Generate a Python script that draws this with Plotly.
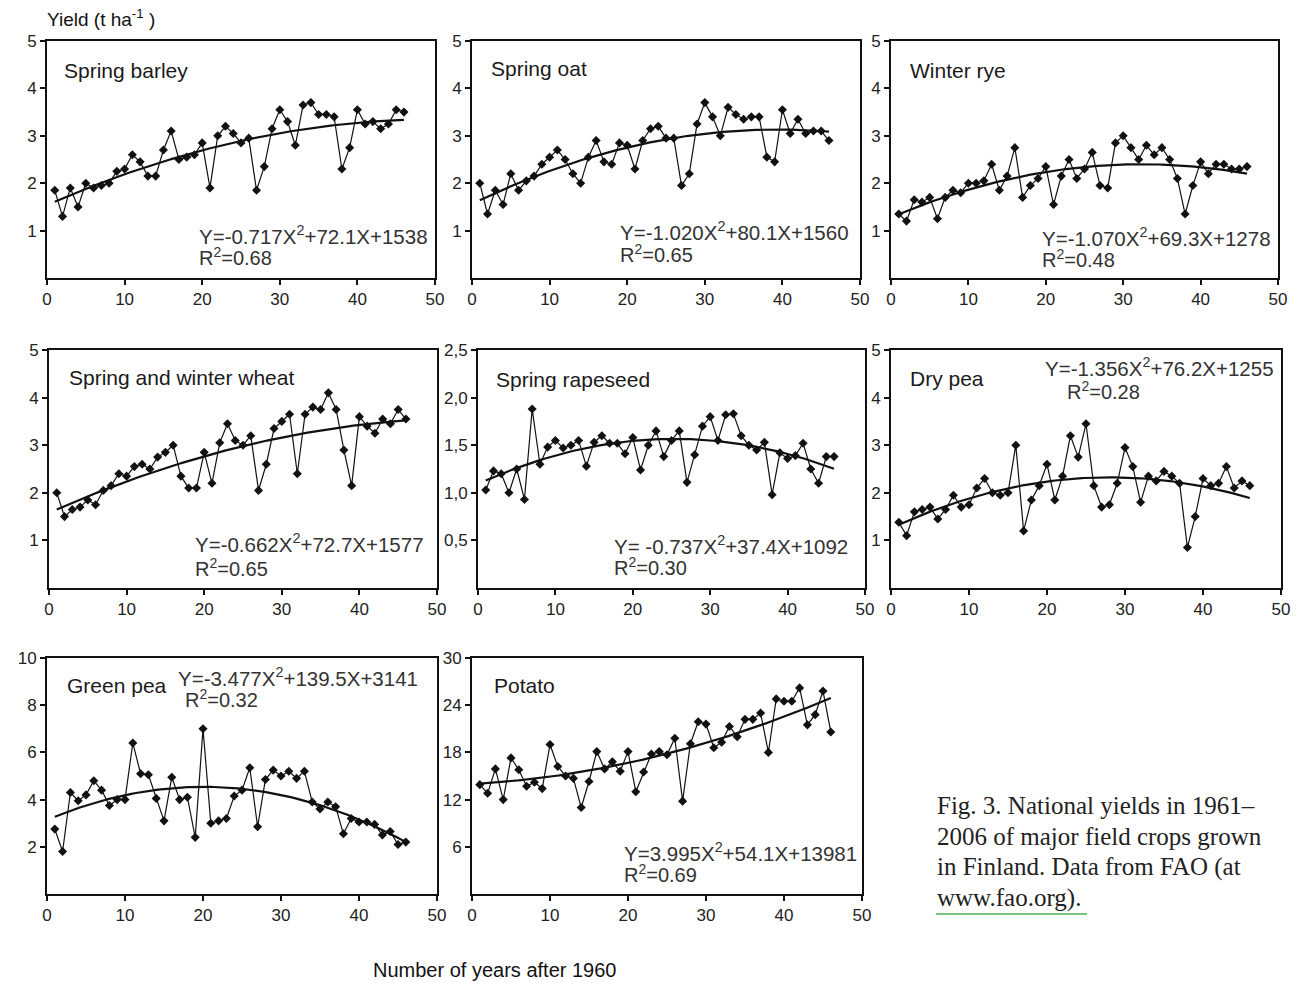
import numpy as np
import plotly.graph_objects as go

W, H = 1305, 983
years = list(range(1, 47))

spring_barley = [1.85, 1.3, 1.9, 1.5, 2.0, 1.9, 1.95, 2.0, 2.25, 2.3,
                 2.6, 2.45, 2.15, 2.15, 2.7, 3.1, 2.5, 2.55, 2.6, 2.85,
                 1.9, 3.0, 3.2, 3.05, 2.85, 2.95, 1.85, 2.35, 3.15, 3.55,
                 3.3, 2.8, 3.65, 3.7, 3.45, 3.45, 3.4, 2.3, 2.75, 3.55,
                 3.25, 3.3, 3.15, 3.25, 3.55, 3.5]
spring_oat = [2.0, 1.35, 1.85, 1.55, 2.2, 1.85, 2.05, 2.15, 2.4, 2.55,
              2.7, 2.5, 2.2, 2.0, 2.55, 2.9, 2.45, 2.4, 2.85, 2.8,
              2.3, 2.9, 3.15, 3.2, 2.95, 2.95, 1.95, 2.2, 3.25, 3.7,
              3.4, 3.0, 3.6, 3.45, 3.35, 3.4, 3.4, 2.55, 2.45, 3.55,
              3.05, 3.35, 3.05, 3.1, 3.1, 2.9]
winter_rye = [1.35, 1.2, 1.65, 1.6, 1.7, 1.25, 1.7, 1.85, 1.8, 2.0,
              2.0, 2.05, 2.4, 1.85, 2.15, 2.75, 1.7, 1.95, 2.1, 2.35,
              1.55, 2.15, 2.5, 2.1, 2.3, 2.65, 1.95, 1.9, 2.85, 3.0,
              2.75, 2.5, 2.8, 2.6, 2.75, 2.5, 2.1, 1.35, 1.95, 2.45,
              2.2, 2.4, 2.4, 2.3, 2.3, 2.35]
wheat = [2.0, 1.5, 1.65, 1.7, 1.85, 1.75, 2.05, 2.15, 2.4, 2.35,
         2.55, 2.6, 2.5, 2.75, 2.85, 3.0, 2.35, 2.1, 2.1, 2.85,
         2.2, 3.05, 3.45, 3.1, 3.0, 3.2, 2.05, 2.6, 3.35, 3.5,
         3.65, 2.4, 3.65, 3.8, 3.75, 4.1, 3.75, 2.9, 2.15, 3.6,
         3.4, 3.25, 3.55, 3.45, 3.75, 3.55]
rapeseed = [1.03, 1.23, 1.2, 1.0, 1.25, 0.93, 1.88, 1.3, 1.48, 1.55,
            1.47, 1.5, 1.55, 1.28, 1.53, 1.6, 1.52, 1.52, 1.41, 1.58,
            1.24, 1.5, 1.65, 1.38, 1.55, 1.65, 1.11, 1.4, 1.7, 1.8,
            1.55, 1.82, 1.83, 1.6, 1.5, 1.45, 1.53, 0.98, 1.42, 1.36,
            1.39, 1.52, 1.25, 1.1, 1.38, 1.38]
dry_pea = [1.38, 1.1, 1.6, 1.65, 1.7, 1.45, 1.65, 1.95, 1.7, 1.75,
           2.1, 2.3, 2.0, 1.95, 2.0, 3.0, 1.2, 1.85, 2.15, 2.6,
           1.85, 2.35, 3.2, 2.75, 3.45, 2.15, 1.7, 1.75, 2.2, 2.95,
           2.55, 1.8, 2.35, 2.25, 2.45, 2.35, 2.2, 0.85, 1.5, 2.3,
           2.15, 2.2, 2.55, 2.1, 2.25, 2.15]
green_pea = [2.75, 1.8, 4.3, 3.95, 4.2, 4.8, 4.4, 3.75, 4.0, 4.0,
             6.4, 5.1, 5.05, 4.05, 3.1, 4.95, 4.0, 4.1, 2.4, 7.0,
             3.0, 3.1, 3.2, 4.15, 4.4, 5.35, 2.85, 4.85, 5.25, 5.0,
             5.2, 4.9, 5.2, 3.9, 3.6, 3.9, 3.7, 2.55, 3.2, 3.05,
             3.05, 2.95, 2.5, 2.65, 2.1, 2.2]
potato = [13.9, 12.8, 15.9, 12.0, 17.3, 15.8, 13.7, 14.2, 13.4, 19.0,
          16.2, 15.0, 14.7, 11.0, 14.3, 18.1, 15.9, 16.8, 15.6, 18.1,
          13.0, 15.5, 17.8, 18.1, 17.7, 19.8, 11.8, 19.1, 21.9, 21.6,
          18.6, 19.3, 21.3, 20.0, 22.2, 22.2, 23.0, 18.0, 24.8, 24.5,
          24.5, 26.2, 21.5, 22.8, 25.8, 20.6]

crop_names = ["Spring barley", "Spring oat", "Winter rye", "Spring and winter wheat",
              "Spring rapeseed", "Dry pea", "Green pea", "Potato"]
crop_values = [spring_barley, spring_oat, winter_rye, wheat, rapeseed, dry_pea, green_pea, potato]
# quadratic fit coefficients printed in the chart (kg/ha): a, b, c
fit_coefs = [(-0.717, 72.1, 1538), (-1.020, 80.1, 1560), (-1.070, 69.3, 1278),
             (-0.662, 72.7, 1577), (-0.737, 37.4, 1092), (-1.356, 76.2, 1255),
             (-3.477, 139.5, 3141), (3.995, 54.1, 13981)]
eq_texts = ["Y=-0.717X<sup>2</sup>+72.1X+1538", "Y=-1.020X<sup>2</sup>+80.1X+1560",
            "Y=-1.070X<sup>2</sup>+69.3X+1278", "Y=-0.662X<sup>2</sup>+72.7X+1577",
            "Y= -0.737X<sup>2</sup>+37.4X+1092", "Y=-1.356X<sup>2</sup>+76.2X+1255",
            "Y=-3.477X<sup>2</sup>+139.5X+3141", "Y=3.995X<sup>2</sup>+54.1X+13981"]
r2_texts = ["R<sup>2</sup>=0.68", "R<sup>2</sup>=0.65", "R<sup>2</sup>=0.48", "R<sup>2</sup>=0.65",
            "R<sup>2</sup>=0.30", "R<sup>2</sup>=0.28", "R<sup>2</sup>=0.32", "R<sup>2</sup>=0.69"]
y_ranges = [[0, 5], [0, 5], [0, 5], [0, 5], [0, 2.5], [0, 5], [0, 10], [0, 30]]
y_tickvals = [[1, 2, 3, 4, 5]] * 4 + [[0.5, 1.0, 1.5, 2.0, 2.5]] + [[1, 2, 3, 4, 5]] + \
             [[2, 4, 6, 8, 10], [6, 12, 18, 24, 30]]
y_ticktext = [["1", "2", "3", "4", "5"]] * 4 + [["0,5", "1,0", "1,5", "2,0", "2,5"]] + \
             [["1", "2", "3", "4", "5"], ["2", "4", "6", "8", "10"], ["6", "12", "18", "24", "30"]]
x_ticks = [0, 10, 20, 30, 40, 50]

# layout: panel pixel boxes (x0, x1, ytop, ybottom)
boxes = [(47, 435, 41, 278), (472, 860, 41, 278), (891, 1278, 41, 278),
         (49, 437, 350, 588), (478, 865, 350, 588), (891, 1281, 350, 588),
         (47, 437, 658, 894), (472, 862, 658, 894)]
# label positions (px): name (x, y), equation (x, y), r2 (x, y)
name_pos = [(62, 70), (489, 68), (908, 70), (67, 377), (494, 379), (908, 378), (65, 685), (492, 685)]
eq_pos = [(197, 235), (618, 231), (1040, 237), (193, 543), (612, 545), (1043, 367), (176, 677), (622, 852)]
r2_pos = [(197, 256), (618, 253), (1040, 259), (193, 567), (612, 566), (1065, 390), (183, 698), (622, 873)]


def px(x):
    return x / W


def py(y):
    return 1 - y / H


FONT = "Liberation Sans, Arial, sans-serif"
fig = go.Figure()
annotations = []
layout = {}

for i in range(8):
    k = "" if i == 0 else str(i + 1)
    xa, ya = "x" + k, "y" + k
    a, b, c = fit_coefs[i]
    xf = np.linspace(1, 46, 120)
    yf = (a * xf ** 2 + b * xf + c) / 1000.0
    fig.add_trace(go.Scatter(x=years, y=crop_values[i], mode="lines+markers",
                             line=dict(color="#111", width=1.2),
                             marker=dict(symbol="diamond", size=7, color="#111"),
                             xaxis=xa, yaxis=ya, showlegend=False, hoverinfo="skip"))
    fig.add_trace(go.Scatter(x=xf, y=yf, mode="lines", line=dict(color="#111", width=2.2),
                             xaxis=xa, yaxis=ya, showlegend=False, hoverinfo="skip"))
    x0, x1, yt, yb = boxes[i]
    common = dict(showline=True, linecolor="#111", linewidth=2, mirror=True,
                  ticks="outside", ticklen=5, tickwidth=1.5, tickcolor="#111",
                  showgrid=False, zeroline=False, automargin=False,
                  tickfont=dict(family=FONT, size=17, color="#222"))
    layout["xaxis" + k] = dict(domain=[px(x0), px(x1)], anchor=ya, range=[0, 50],
                               tickvals=x_ticks, **common)
    layout["yaxis" + k] = dict(domain=[py(yb), py(yt)], anchor=xa, range=y_ranges[i],
                               tickvals=y_tickvals[i], ticktext=y_ticktext[i], **common)
    nx, ny = name_pos[i]
    annotations.append(dict(text=crop_names[i], x=px(nx), y=py(ny), xref="paper", yref="paper",
                            xanchor="left", yanchor="middle", showarrow=False,
                            font=dict(family=FONT, size=21, color="#1a1a1a")))
    ex, ey = eq_pos[i]
    annotations.append(dict(text=eq_texts[i], x=px(ex), y=py(ey), xref="paper", yref="paper",
                            xanchor="left", yanchor="middle", showarrow=False,
                            font=dict(family=FONT, size=20.5, color="#333")))
    rx, ry = r2_pos[i]
    annotations.append(dict(text=r2_texts[i], x=px(rx), y=py(ry), xref="paper", yref="paper",
                            xanchor="left", yanchor="middle", showarrow=False,
                            font=dict(family=FONT, size=20, color="#333")))

annotations.append(dict(text="Yield (t ha<sup>-1</sup> )", x=px(45), y=py(18), xref="paper", yref="paper",
                        xanchor="left", yanchor="middle", showarrow=False,
                        font=dict(family=FONT, size=19, color="#111")))
annotations.append(dict(text="Number of years after 1960", x=px(494), y=py(970), xref="paper", yref="paper",
                        xanchor="center", yanchor="middle", showarrow=False,
                        font=dict(family=FONT, size=20, color="#111")))

caption_lines = ["Fig. 3. National yields in 1961–", "2006 of major field crops grown",
                 "in Finland. Data from FAO (at", "www.fao.org)."]
caption_y = [805, 836, 867, 898]
for line, cy in zip(caption_lines, caption_y):
    annotations.append(dict(text=line, x=px(935), y=py(cy), xref="paper", yref="paper",
                            xanchor="left", yanchor="middle", showarrow=False,
                            font=dict(family="Liberation Serif, Times New Roman, serif", size=25, color="#222")))

shapes = [dict(type="line", xref="paper", yref="paper", x0=px(936), x1=px(1087),
               y0=py(914), y1=py(914), line=dict(color="#4caf50", width=1.5))]

fig.update_layout(width=W, height=H, margin=dict(l=0, r=0, t=0, b=0, autoexpand=False),
                  paper_bgcolor="white", plot_bgcolor="white",
                  annotations=annotations, shapes=shapes, **layout)

fig.write_html("out.html", config={"displayModeBar": False},
               post_script="document.body.style.margin='0px';document.body.style.padding='0px';")
